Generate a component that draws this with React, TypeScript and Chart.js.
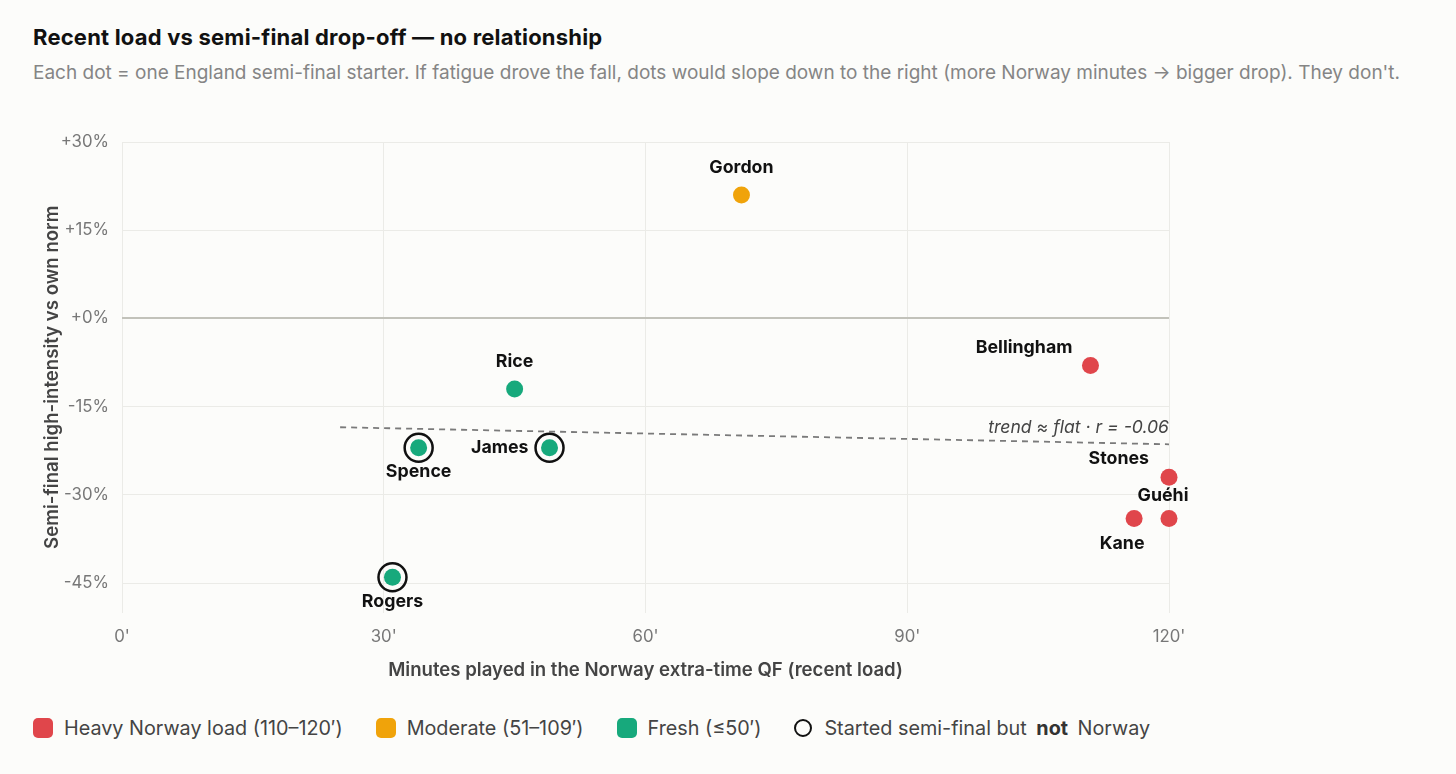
import { useEffect, useRef } from "react";
import { Chart, registerables } from "chart.js";

Chart.register(...registerables);

// England semi-final starters
const players = ["Gordon", "Rice", "Bellingham", "Stones", "Guéhi", "Kane", "James", "Spence", "Rogers"];
const norwayMinutes = [71, 45, 111, 120, 120, 116, 49, 34, 31];
const semiChange = [21, -12, -8, -27, -34, -34, -22, -22, -44];
const notNorway = [false, false, false, false, false, false, true, true, true];

// fitted trend
const trendX = [25, 120];
const trendY = [-18.5, -21.4];
const trendLabel = "trend ≈ flat · r = -0.06";

const xTicks = [0, 30, 60, 90, 120];
const yTicks = [30, 15, 0, -15, -30, -45];

const RED = "#e0464b";
const ORANGE = "#f0a30a";
const GREEN = "#17a97c";

// label placement next to each dot: [dx, dy, align]
const labelOffsets: [number, number, CanvasTextAlign][] = [
    [0, -27, "center"],
    [0, -27, "center"],
    [-18, -18, "right"],
    [-20, -19, "right"],
    [-6, -23, "center"],
    [-12, 25, "center"],
    [-21, 0, "right"],
    [0, 24, "center"],
    [0, 24, "center"],
];

const loadColor = (m: number) => (m >= 110 ? RED : m >= 51 ? ORANGE : GREEN);

const pointLabels = {
    id: "pointLabels",
    afterDatasetsDraw(chart: Chart) {
        const { ctx } = chart;
        const meta = chart.getDatasetMeta(0);
        ctx.save();
        ctx.font = "700 17.8px Inter";
        ctx.fillStyle = "#111";
        ctx.textBaseline = "middle";
        meta.data.forEach((pt: any, i: number) => {
            const [dx, dy, align] = labelOffsets[i];
            ctx.textAlign = align;
            ctx.fillText(players[i], pt.x + dx, pt.y + dy);
        });
        const xs = chart.scales.x;
        const ys = chart.scales.y;
        ctx.font = "italic 17.6px Inter";
        ctx.fillStyle = "#444";
        ctx.textAlign = "right";
        ctx.fillText(trendLabel, xs.getPixelForValue(trendX[1]), ys.getPixelForValue(trendY[1]) - 17);
        ctx.restore();
    },
};

function ScatterChart() {
    const canvasRef = useRef<HTMLCanvasElement>(null);

    useEffect(() => {
        if (!canvasRef.current) return;
        Chart.defaults.font.family = "Inter";

        const dots = players.map((_, i) => ({ x: norwayMinutes[i], y: semiChange[i] }));
        const rings = dots.filter((_, i) => notNorway[i]);

        const chart = new Chart(canvasRef.current, {
            type: "scatter",
            data: {
                datasets: [
                    {
                        data: dots,
                        pointRadius: 8.5,
                        pointBorderWidth: 0,
                        pointBackgroundColor: norwayMinutes.map(loadColor),
                        clip: false,
                    },
                    {
                        data: rings,
                        pointRadius: 14,
                        pointBorderWidth: 2.5,
                        pointBorderColor: "#111",
                        pointBackgroundColor: "rgba(0,0,0,0)",
                        clip: false,
                    },
                    {
                        data: trendX.map((x, i) => ({ x, y: trendY[i] })),
                        showLine: true,
                        borderColor: "#7a7a7a",
                        borderWidth: 1.8,
                        borderDash: [6, 5],
                        pointRadius: 0,
                    },
                ],
            },
            options: {
                responsive: false,
                animation: false,
                events: [],
                layout: { padding: { top: 42, right: 287, bottom: 0, left: 0 } },
                plugins: {
                    legend: { display: false },
                    tooltip: { enabled: false },
                },
                scales: {
                    x: {
                        type: "linear",
                        min: 0,
                        max: 120,
                        afterBuildTicks: (axis: any) => {
                            axis.ticks = xTicks.map((v) => ({ value: v }));
                        },
                        afterFit: (axis: any) => {
                            axis.height = 87.5;
                        },
                        border: { display: false },
                        grid: { color: "#ebebe7", drawTicks: false },
                        ticks: {
                            padding: 14,
                            color: "#777",
                            font: { size: 16.8 },
                            callback: (v: any) => v + "'",
                        },
                        title: {
                            display: true,
                            text: "Minutes played in the Norway extra-time QF (recent load)",
                            color: "#444",
                            font: { size: 18.6, weight: 600 },
                            padding: { top: 0, bottom: 18.5 },
                        },
                    },
                    y: {
                        min: -50,
                        max: 30,
                        afterBuildTicks: (axis: any) => {
                            axis.ticks = yTicks.map((v) => ({ value: v }));
                        },
                        afterFit: (axis: any) => {
                            axis.width = 122;
                        },
                        border: { display: false },
                        grid: {
                            drawTicks: false,
                            color: (c: any) => (c.tick && c.tick.value === 0 ? "#c2c2ba" : "#ebebe7"),
                            lineWidth: (c: any) => (c.tick && c.tick.value === 0 ? 2 : 1),
                        },
                        ticks: {
                            padding: 13,
                            color: "#777",
                            font: { size: 16.8 },
                            callback: (v: any) => (v >= 0 ? "+" : "") + v + "%",
                        },
                        title: {
                            display: true,
                            text: "Semi-final high-intensity vs own norm",
                            color: "#444",
                            font: { size: 18.6, weight: 600 },
                            padding: { top: 41.5, bottom: 0 },
                        },
                    },
                },
            },
            plugins: [pointLabels],
        });

        return () => chart.destroy();
    }, []);

    return <canvas ref={canvasRef} width={1456} height={600} style={{ width: 1456, height: 600, display: "block" }} />;
}

const swatch = (color: string) => (
    <span style={{ width: 20, height: 20, borderRadius: 5, background: color, display: "inline-block", marginRight: 11 }} />
);

export default function App() {
    return (
        <div
            style={{
                position: "absolute",
                left: 0,
                top: 0,
                width: 1456,
                height: 774,
                background: "#fcfcfa",
                fontFamily: "Inter, sans-serif",
                overflow: "hidden",
            }}
        >
            <div
                style={{
                    position: "absolute",
                    left: 33,
                    top: 23.5,
                    fontSize: 22,
                    lineHeight: "26px",
                    fontWeight: 700,
                    color: "#111",
                    letterSpacing: 0.2,
                    whiteSpace: "nowrap",
                }}
            >
                Recent load vs semi-final drop-off — no relationship
            </div>
            <div style={{ position: "absolute", left: 33, top: 61, fontSize: 19, lineHeight: "24px", color: "#858585", whiteSpace: "nowrap" }}>
                Each dot = one England semi-final starter. If fatigue drove the fall, dots would slope down to the right (more Norway minutes → bigger drop). They don't.
            </div>
            <div style={{ position: "absolute", left: 0, top: 100 }}>
                <ScatterChart />
            </div>
            <div
                style={{
                    position: "absolute",
                    left: 33,
                    top: 716,
                    display: "flex",
                    alignItems: "center",
                    gap: 33,
                    fontSize: 19.8,
                    lineHeight: "24px",
                    color: "#444",
                    whiteSpace: "nowrap",
                }}
            >
                <span style={{ display: "flex", alignItems: "center" }}>{swatch(RED)}Heavy Norway load (110–120′)</span>
                <span style={{ display: "flex", alignItems: "center" }}>{swatch(ORANGE)}Moderate (51–109′)</span>
                <span style={{ display: "flex", alignItems: "center" }}>{swatch(GREEN)}Fresh (≤50′)</span>
                <span style={{ display: "flex", alignItems: "center" }}>
                    <span
                        style={{
                            width: 14,
                            height: 14,
                            borderRadius: "50%",
                            border: "2.5px solid #111",
                            display: "inline-block",
                            marginRight: 12,
                        }}
                    />
                    Started semi-final but&nbsp;<b style={{ color: "#333", margin: "0 4px" }}>not</b>&nbsp;Norway
                </span>
            </div>
        </div>
    );
}
